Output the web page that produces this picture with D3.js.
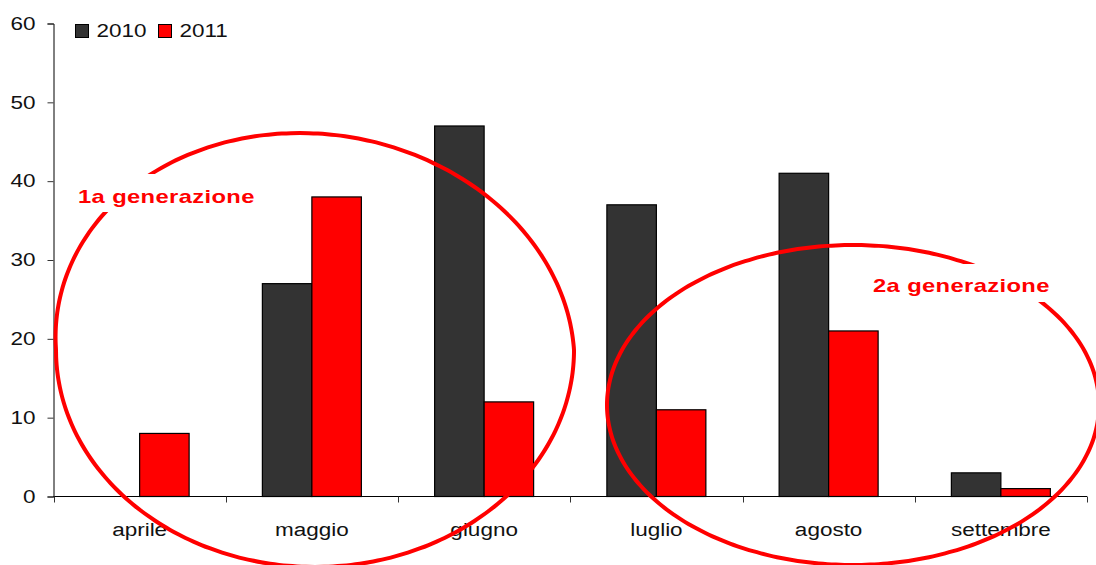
<!DOCTYPE html>
<html>
<head>
<meta charset="utf-8">
<script src="https://cdn.jsdelivr.net/npm/d3@7"></script>
<style>
  html, body { margin: 0; padding: 0; background: #fff; }
  svg { display: block; }
  text { font-family: "Liberation Sans", Arial, Helvetica, sans-serif; }
</style>
</head>
<body>
<svg id="chart" width="1096" height="565"></svg>
<script>
// Monthly counts, two seasons
const months = ["aprile", "maggio", "giugno", "luglio", "agosto", "settembre"];
const series = ["2010", "2011"];
const values2010 = [null, 27, 47, 37, 41, 3];
const values2011 = [8, 38, 12, 11, 21, 1];
const yTicks = [0, 10, 20, 30, 40, 50, 60];
const colors = ["#333333", "#ff0000"];

const svg = d3.select("#chart");
const plotLeft = 53.5, plotRight = 1087, plotTop = 23.5, plotBottom = 496.5;
const STRETCH = 1.25; // wide lettering

// Widen text horizontally about its anchor point
function widen(sel) {
  sel.each(function () {
    const t = d3.select(this);
    const x = +t.attr("x") || 0, yy = +t.attr("y") || 0;
    t.attr("x", 0).attr("y", 0)
      .attr("transform", `translate(${x},${yy}) scale(${STRETCH},1)`);
  });
}

const x0 = d3.scaleBand().domain(months).range([plotLeft, plotRight]).padding(0);
const x1 = d3.scaleBand().domain(series).range([0, x0.bandwidth()])
  .paddingInner(0).paddingOuter(0.74);
const y = d3.scaleLinear().domain([0, 60]).range([plotBottom, plotTop]);

const rows = months.map((m, i) => ({ month: m, vals: [values2010[i], values2011[i]] }));

// bars
const groups = svg.append("g").selectAll("g").data(rows).join("g")
  .attr("transform", d => `translate(${x0(d.month)},0)`);
groups.selectAll("rect")
  .data(d => d.vals.map((v, k) => ({ key: series[k], v, k })).filter(o => o.v != null))
  .join("rect")
  .attr("x", o => x1(o.key))
  .attr("width", x1.bandwidth())
  .attr("y", o => y(o.v))
  .attr("height", o => y(0) - y(o.v))
  .attr("fill", o => colors[o.k])
  .attr("stroke", "#000")
  .attr("stroke-width", 1.2);

// y axis
const yAxis = svg.append("g").attr("transform", `translate(${plotLeft},0)`)
  .call(d3.axisLeft(y).tickValues(yTicks).tickSize(6).tickPadding(12));
yAxis.select(".domain").attr("stroke", "#000");
yAxis.selectAll(".tick line").attr("stroke", "#333");
yAxis.selectAll(".tick text")
  .attr("font-size", 18).attr("fill", "#111")
  .attr("font-family", "Liberation Sans, Arial, sans-serif")
  .call(widen);

// x axis with tick marks at the category boundaries
const xg = svg.append("g");
xg.append("line").attr("x1", plotLeft).attr("x2", plotRight)
  .attr("y1", plotBottom).attr("y2", plotBottom)
  .attr("stroke", "#000");
const bounds = months.map(m => x0(m)).concat([x0(months[months.length - 1]) + x0.bandwidth()]);
xg.selectAll("line.tk").data(bounds).join("line").attr("class", "tk")
  .attr("x1", d => Math.round(d) + 0.5).attr("x2", d => Math.round(d) + 0.5)
  .attr("y1", plotBottom).attr("y2", plotBottom + 6).attr("stroke", "#333");
xg.selectAll("text").data(months).join("text")
  .attr("x", d => x0(d) + x0.bandwidth() / 2)
  .attr("y", 536)
  .attr("text-anchor", "middle")
  .attr("font-size", 18)
  .attr("fill", "#111")
  .text(d => d)
  .call(widen);

// legend
const legend = svg.append("g");
const legItems = [{ label: series[0], x: 75.5 }, { label: series[1], x: 158.5 }];
legItems.forEach((it, k) => {
  legend.append("rect").attr("x", it.x).attr("y", 24.5).attr("width", 13).attr("height", 13)
    .attr("fill", colors[k]).attr("stroke", "#000").attr("stroke-width", 1);
  legend.append("text").attr("x", it.x + 21).attr("y", 37)
    .attr("font-size", 18).attr("fill", "#111").text(it.label)
    .call(widen);
});

// generation annotations: hand-drawn style loops
const notes = svg.append("g");
function loop(cx, cy, rx, ry, lean) {
  const pts = d3.range(0, 361, 2).map(a => {
    const t = a * Math.PI / 180;
    const dy = ry * Math.sin(t);
    const dx = rx * Math.cos(t) + (dy < 0 ? lean * dy : 0);
    return [cx + dx, cy + dy];
  });
  return d3.line().curve(d3.curveCardinalClosed)(pts.slice(0, -1));
}
notes.append("path")
  .attr("d", loop(315, 350, 259, 217, 0.07))
  .attr("fill", "none").attr("stroke", "#ff0000").attr("stroke-width", 4);
notes.append("path")
  .attr("d", loop(853, 405, 246, 160, 0))
  .attr("fill", "none").attr("stroke", "#ff0000").attr("stroke-width", 4);

const labels = [
  { text: "1a generazione", x: 78, y: 203, box: [70, 174, 196, 38] },
  { text: "2a generazione", x: 873, y: 292, box: [866, 264, 192, 38] }
];
labels.forEach(l => {
  notes.append("rect").attr("x", l.box[0]).attr("y", l.box[1])
    .attr("width", l.box[2]).attr("height", l.box[3]).attr("fill", "#fff");
  notes.append("text").attr("x", l.x).attr("y", l.y)
    .attr("font-size", 19).attr("font-weight", "bold")
    .attr("letter-spacing", 0.3)
    .attr("fill", "#ff0000").text(l.text)
    .call(widen);
});
</script>
</body>
</html>
